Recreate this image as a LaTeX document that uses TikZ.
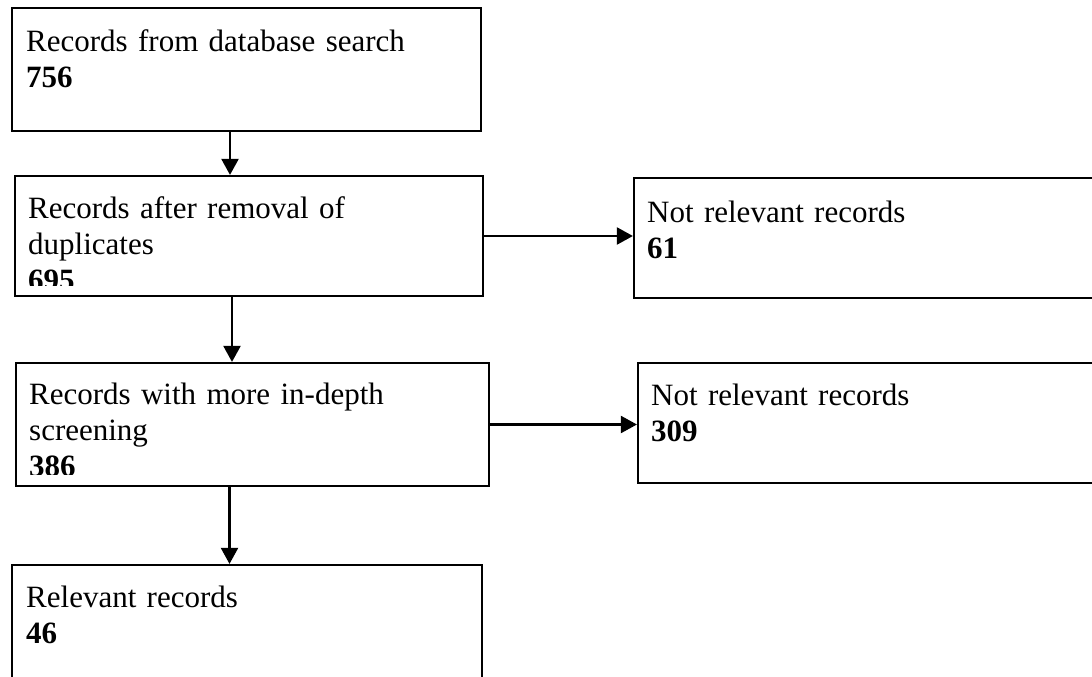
\documentclass[tikz,border=0pt]{standalone}
\usepackage{fontspec}
\setmainfont{Liberation Serif}
\usetikzlibrary{arrows.meta}

\begin{document}
\begin{tikzpicture}[x=1pt,y=-1pt,
  box/.style={draw,line width=2.2pt,inner sep=0pt},
  txt/.style={anchor=base west,inner sep=0pt,text width=460pt,align=left,
    font=\fontsize{31}{36}\selectfont},
  arr/.style={line width=2.2pt,-{Triangle[width=17pt,length=16pt]}}]
  \useasboundingbox (0,0) rectangle (1092,677);
  \clip (0,0) rectangle (1092,677);
  % boxes
  \node[box,minimum width=469pt,minimum height=123pt] (search) at (246.5,69.5) {};
  \node[box,minimum width=468pt,minimum height=120pt] (dedup) at (249,236) {};
  \node[box,minimum width=476pt,minimum height=120pt] (excl1) at (872,238) {};
  \node[box,minimum width=473pt,minimum height=123pt] (screen) at (252.5,424.5) {};
  \node[box,minimum width=472pt,minimum height=120pt] (excl2) at (874,423) {};
  \node[box,minimum width=470pt,minimum height=135pt] (relevant) at (247,632.5) {};
  % texts
  \node[txt] (searcht) at (26,52) {Records from database search\\ \textbf{756}};
  \begin{scope}
    \clip (dedup.north west) rectangle ([yshift=12pt]dedup.south east);
    \node[txt] (dedupt) at (28,218) {Records after removal of\\ duplicates\\ \textbf{695}};
  \end{scope}
  \node[txt] (excl1t) at (647,222) {Not relevant records\\ \textbf{61}};
  \begin{scope}
    \clip (screen.north west) rectangle ([yshift=13pt]screen.south east);
    \node[txt] (screent) at (29,404) {Records with more in-depth\\ screening\\ \textbf{386}};
  \end{scope}
  \node[txt] (excl2t) at (651,405) {Not relevant records\\ \textbf{309}};
  \node[txt] (relevantt) at (26,607) {Relevant records\\ \textbf{46}};
  % arrows
  \draw[arr] ([xshift=-16.5pt]search.south) -- ([xshift=-16.5pt]search.south |- dedup.north);
  \draw[arr] ([xshift=-17pt]dedup.south) -- ([xshift=-17pt]dedup.south |- screen.north);
  \draw[arr] ([xshift=-23pt]screen.south) -- ([xshift=-23pt]screen.south |- relevant.north);
  \draw[arr] (dedup.east) -- (dedup.east -| excl1.west);
  \draw[arr] (screen.east) -- (screen.east -| excl2.west);
\end{tikzpicture}
\end{document}
